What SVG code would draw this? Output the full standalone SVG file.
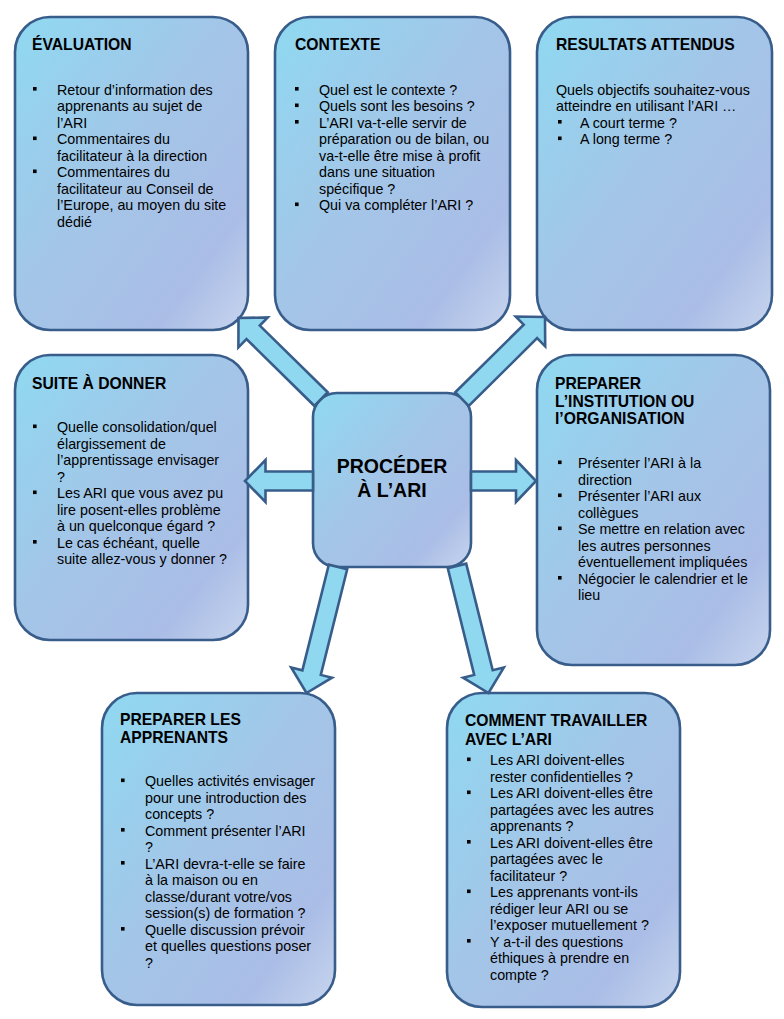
<svg xmlns="http://www.w3.org/2000/svg" width="784" height="1019" viewBox="0 0 784 1019">
<defs>
<linearGradient id="g" x1="0" y1="0" x2="1" y2="1">
<stop offset="0" stop-color="#8fd9f1"/>
<stop offset="0.45" stop-color="#a3c6e8"/>
<stop offset="0.8" stop-color="#aabde6"/>
<stop offset="1" stop-color="#c8d5ee"/>
</linearGradient>
<rect id="b" width="3.6" height="3.6" fill="#000"/>
</defs>
<style>
.box{fill:url(#g);stroke:#385d8a;stroke-width:2.6}
.arr{fill:#8fd8ef;stroke:#385d8a;stroke-width:2.6;stroke-linejoin:miter}
text{font-family:"Liberation Sans",Arial,sans-serif;fill:#000}
.t{font-size:15.7px;font-weight:bold}
.c{font-size:19.5px;font-weight:bold;text-anchor:middle}
.x{font-size:14.3px}
</style>
<rect width="784" height="1019" fill="#fff"/>

<g id="evaluation">
<rect class="box" x="15" y="17" width="233" height="313" rx="35"/>
<text class="t" x="32" y="50">ÉVALUATION</text>
<use href="#b" x="33" y="87"/><use href="#b" x="33" y="136.5"/><use href="#b" x="33" y="169.5"/>
<text class="x"><tspan x="57" y="94.5">Retour d’information des</tspan><tspan x="57" y="111">apprenants au sujet de</tspan><tspan x="57" y="127.5">l’ARI</tspan><tspan x="57" y="144">Commentaires du</tspan><tspan x="57" y="160.5">facilitateur à la direction</tspan><tspan x="57" y="177">Commentaires du</tspan><tspan x="57" y="193.5">facilitateur au Conseil de</tspan><tspan x="57" y="210">l’Europe, au moyen du site</tspan><tspan x="57" y="226.5">dédié</tspan></text>
</g>

<g id="contexte">
<rect class="box" x="275" y="17" width="235" height="313" rx="35"/>
<text class="t" x="295" y="50">CONTEXTE</text>
<use href="#b" x="295" y="87"/><use href="#b" x="295" y="103.5"/><use href="#b" x="295" y="120"/><use href="#b" x="295" y="202.5"/>
<text class="x"><tspan x="319" y="94.5">Quel est le contexte ?</tspan><tspan x="319" y="111">Quels sont les besoins ?</tspan><tspan x="319" y="127.5">L’ARI va-t-elle servir de</tspan><tspan x="319" y="144">préparation ou de bilan, ou</tspan><tspan x="319" y="160.5">va-t-elle être mise à profit</tspan><tspan x="319" y="177">dans une situation</tspan><tspan x="319" y="193.5">spécifique ?</tspan><tspan x="319" y="210">Qui va compléter l’ARI ?</tspan></text>
</g>

<g id="resultats">
<rect class="box" x="537" y="17" width="235" height="313" rx="35"/>
<text class="t" x="556" y="50">RESULTATS ATTENDUS</text>
<use href="#b" x="558" y="120"/><use href="#b" x="558" y="136.5"/>
<text class="x"><tspan x="556" y="94.5">Quels objectifs souhaitez-vous</tspan><tspan x="556" y="111">atteindre en utilisant l’ARI …</tspan><tspan x="580" y="127.5">A court terme ?</tspan><tspan x="580" y="144">A long terme ?</tspan></text>
</g>

<g id="suite">
<rect class="box" x="15" y="355" width="233" height="285" rx="35"/>
<text class="t" x="32" y="389">SUITE À DONNER</text>
<use href="#b" x="33" y="424.5"/><use href="#b" x="33" y="490.5"/><use href="#b" x="33" y="540"/>
<text class="x"><tspan x="57" y="432">Quelle consolidation/quel</tspan><tspan x="57" y="448.5">élargissement de</tspan><tspan x="57" y="465">l’apprentissage envisager</tspan><tspan x="57" y="481.5">?</tspan><tspan x="57" y="498">Les ARI que vous avez pu</tspan><tspan x="57" y="514.5">lire posent-elles problème</tspan><tspan x="57" y="531">à un quelconque égard ?</tspan><tspan x="57" y="547.5">Le cas échéant, quelle</tspan><tspan x="57" y="564">suite allez-vous y donner ?</tspan></text>
</g>

<g id="institution">
<rect class="box" x="537" y="355" width="233" height="310" rx="35"/>
<text class="t"><tspan x="555" y="389">PREPARER</tspan><tspan x="555" y="406.5">L’INSTITUTION OU</tspan><tspan x="555" y="424">l’ORGANISATION</tspan></text>
<use href="#b" x="558" y="460.5"/><use href="#b" x="558" y="493.5"/><use href="#b" x="558" y="526.5"/><use href="#b" x="558" y="576"/>
<text class="x"><tspan x="578" y="468">Présenter l’ARI à la</tspan><tspan x="578" y="484.5">direction</tspan><tspan x="578" y="501">Présenter l’ARI aux</tspan><tspan x="578" y="517.5">collègues</tspan><tspan x="578" y="534">Se mettre en relation avec</tspan><tspan x="578" y="550.5">les autres personnes</tspan><tspan x="578" y="567">éventuellement impliquées</tspan><tspan x="578" y="583.5">Négocier le calendrier et le</tspan><tspan x="578" y="600">lieu</tspan></text>
</g>

<g id="apprenants">
<rect class="box" x="102" y="693" width="233" height="312" rx="35"/>
<text class="t"><tspan x="120" y="724.5">PREPARER LES</tspan><tspan x="120" y="743">APPRENANTS</tspan></text>
<use href="#b" x="121" y="778.5"/><use href="#b" x="121" y="828"/><use href="#b" x="121" y="861"/><use href="#b" x="121" y="927"/>
<text class="x"><tspan x="145" y="786">Quelles activités envisager</tspan><tspan x="145" y="802.5">pour une introduction des</tspan><tspan x="145" y="819">concepts ?</tspan><tspan x="145" y="835.5">Comment présenter l’ARI</tspan><tspan x="145" y="852">?</tspan><tspan x="145" y="868.5">L’ARI devra-t-elle se faire</tspan><tspan x="145" y="885">à la maison ou en</tspan><tspan x="145" y="901.5">classe/durant votre/vos</tspan><tspan x="145" y="918">session(s) de formation ?</tspan><tspan x="145" y="934.5">Quelle discussion prévoir</tspan><tspan x="145" y="951">et quelles questions poser</tspan><tspan x="145" y="967.5">?</tspan></text>
</g>

<g id="travailler">
<rect class="box" x="447" y="693" width="233" height="314" rx="35"/>
<text class="t"><tspan x="465" y="725.5">COMMENT TRAVAILLER</tspan><tspan x="465" y="744.5">AVEC L’ARI</tspan></text>
<use href="#b" x="467" y="757.5"/><use href="#b" x="467" y="790.5"/><use href="#b" x="467" y="840"/><use href="#b" x="467" y="889.5"/><use href="#b" x="467" y="939"/>
<text class="x"><tspan x="490" y="765">Les ARI doivent-elles</tspan><tspan x="490" y="781.5">rester confidentielles ?</tspan><tspan x="490" y="798">Les ARI doivent-elles être</tspan><tspan x="490" y="814.5">partagées avec les autres</tspan><tspan x="490" y="831">apprenants ?</tspan><tspan x="490" y="847.5">Les ARI doivent-elles être</tspan><tspan x="490" y="864">partagées avec le</tspan><tspan x="490" y="880.5">facilitateur ?</tspan><tspan x="490" y="897">Les apprenants vont-ils</tspan><tspan x="490" y="913.5">rédiger leur ARI ou se</tspan><tspan x="490" y="930">l’exposer mutuellement ?</tspan><tspan x="490" y="946.5">Y a-t-il des questions</tspan><tspan x="490" y="963">éthiques à prendre en</tspan><tspan x="490" y="979.5">compte ?</tspan></text>
</g>

<g id="proceder">
<rect class="box" x="313" y="393" width="158" height="174" rx="24"/>
<text class="c"><tspan x="392" y="473">PROCÉDER</tspan><tspan x="392" y="497">À L’ARI</tspan></text>
</g>

<g id="connectors">
<polygon class="arr" points="327.7,392.2 259.8,325.6 267.8,317.4 238.5,318 238.4,347.4 246.5,339.1 314.3,405.8"/>
<polygon class="arr" points="455.3,392.2 523.7,324.7 515.7,316.5 545,317 545.2,346.4 537.1,338.2 468.7,405.8"/>
<polygon class="arr" points="313,471.5 265.5,471.5 265.5,460 245,481 265.5,502 265.5,490.5 313,490.5"/>
<polygon class="arr" points="471,471.5 516,471.5 516,460 536,481 516,502 516,490.5 471,490.5"/>
<polygon class="arr" points="328.8,564.7 302.4,670.3 291.2,667.5 306.5,693 332,677.7 320.8,674.9 347.2,569.3"/>
<polygon class="arr" points="447.8,568.3 474.2,674.9 463.1,677.7 488.5,693 503.8,667.6 492.7,670.3 466.2,563.7"/>
</g>
</svg>
